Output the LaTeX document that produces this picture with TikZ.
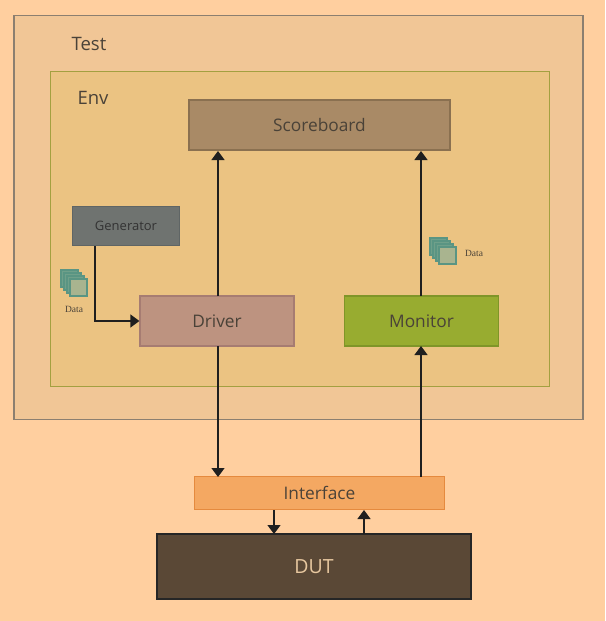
\documentclass[tikz,border=0pt]{standalone}
\usepackage{fontspec}
\setmainfont{Open Sans}
\newfontfamily\dataserif{Liberation Serif}
\usetikzlibrary{arrows.meta}
\definecolor{bgc}{HTML}{FFCF9F}
\definecolor{testc}{HTML}{F1C696}
\definecolor{teste}{HTML}{8C7F70}
\definecolor{envc}{HTML}{EBC382}
\definecolor{enve}{HTML}{A3A040}
\definecolor{stackc}{HTML}{6FA08A}
\definecolor{stackl}{HTML}{A9B48F}
\definecolor{stacke}{HTML}{5A9583}
\definecolor{sbc}{HTML}{A98A66}
\definecolor{sbe}{HTML}{8A7050}
\definecolor{genc}{HTML}{6F7370}
\definecolor{gene}{HTML}{5F6565}
\definecolor{drvc}{HTML}{BD9380}
\definecolor{drve}{HTML}{A67C72}
\definecolor{monc}{HTML}{98AC30}
\definecolor{mone}{HTML}{7F9528}
\definecolor{ifcc}{HTML}{F4A862}
\definecolor{ifce}{HTML}{E58A3E}
\definecolor{dutc}{HTML}{5A4836}
\definecolor{dutt}{HTML}{E8C8A0}
\definecolor{txt}{HTML}{4A4238}
\tikzset{
  x=1pt,y=-1pt,
  lbl/.style={font=\fontsize{17.3}{20}\selectfont,text=txt},
  biglbl/.style={font=\fontsize{18.5}{20}\selectfont,text=txt},
  block/.style={draw=#1,line width=1.2pt,inner sep=0pt},
  conn/.style={draw=black!88,line width=1.3pt,-{Triangle[length=9pt,width=13pt]}},
  sq/.style={draw=stacke,line width=1.5pt,fill=#1},
  smalldata/.style={font=\dataserif\fontsize{9.5}{11}\selectfont,text=txt,inner sep=0pt},
  pics/datastack/.style={code={
    \draw[sq=stackc] (0,0) rectangle (17,17);
    \draw[sq=stackc] (3,3) rectangle (20,20);
    \draw[sq=stackc] (6,6) rectangle (23,23);
    \draw[sq=stackl] (9,9) rectangle (26,26);
  }}
}
\begin{document}
\begin{tikzpicture}
\useasboundingbox[fill=bgc] (0,0) rectangle (605,621);
\node[block=teste,fill=testc,minimum width=569pt,minimum height=404pt] (test) at (298.5,217.5) {};
\node[block=enve,fill=envc,minimum width=499pt,minimum height=315pt] (env) at (300,229) {};
\node[biglbl] (testl) at (89,44) {Test};
\node[biglbl] (envl) at (93,98) {Env};
\node[block=sbe,fill=sbc,minimum width=261pt,minimum height=50pt,lbl] (sb) at (319.5,125) {Scoreboard};
\node[block=gene,fill=genc,minimum width=107pt,minimum height=39pt,font=\fontsize{13}{15}\selectfont,text=black!80] (gen) at (126,226) {Generator};
\node[block=drve,fill=drvc,minimum width=154pt,minimum height=50pt,lbl] (drv) at (217,321) {Driver};
\node[block=mone,fill=monc,minimum width=154pt,minimum height=50pt,lbl] (mon) at (421.5,321) {Monitor};
\node[block=ifce,fill=ifcc,minimum width=250pt,minimum height=33pt,lbl] (ifc) at (319.5,493) {Interface};
\node[block=black!85,fill=dutc,minimum width=314pt,minimum height=65pt,font=\fontsize{19.5}{22}\selectfont,text=dutt] (dut) at (314,566.5) {DUT};
\pic at (61,270) {datastack};
\pic at (430,238) {datastack};
\node[smalldata] (d1) at (74,309) {Data};
\node[smalldata] (d2) at (474,253) {Data};
\coordinate (a1) at (218,296);
\coordinate (a2) at (218,151);
\coordinate (b1) at (421,296);
\coordinate (b2) at (421,151);
\coordinate (c1) at (218,346);
\coordinate (c2) at (218,477);
\coordinate (e1) at (421,477);
\coordinate (e2) at (421,346);
\coordinate (f1) at (274,510);
\coordinate (f2) at (274,534);
\coordinate (g1) at (364,534);
\coordinate (g2) at (364,510);
\draw[conn] (a1) -- (a2);
\draw[conn] (b1) -- (b2);
\draw[conn] (c1) -- (c2);
\draw[conn] (e1) -- (e2);
\draw[conn] (f1) -- (f2);
\draw[conn] (g1) -- (g2);
\draw[conn] (gen.south -| 95,0) |- (drv.west);
\end{tikzpicture}
\end{document}
